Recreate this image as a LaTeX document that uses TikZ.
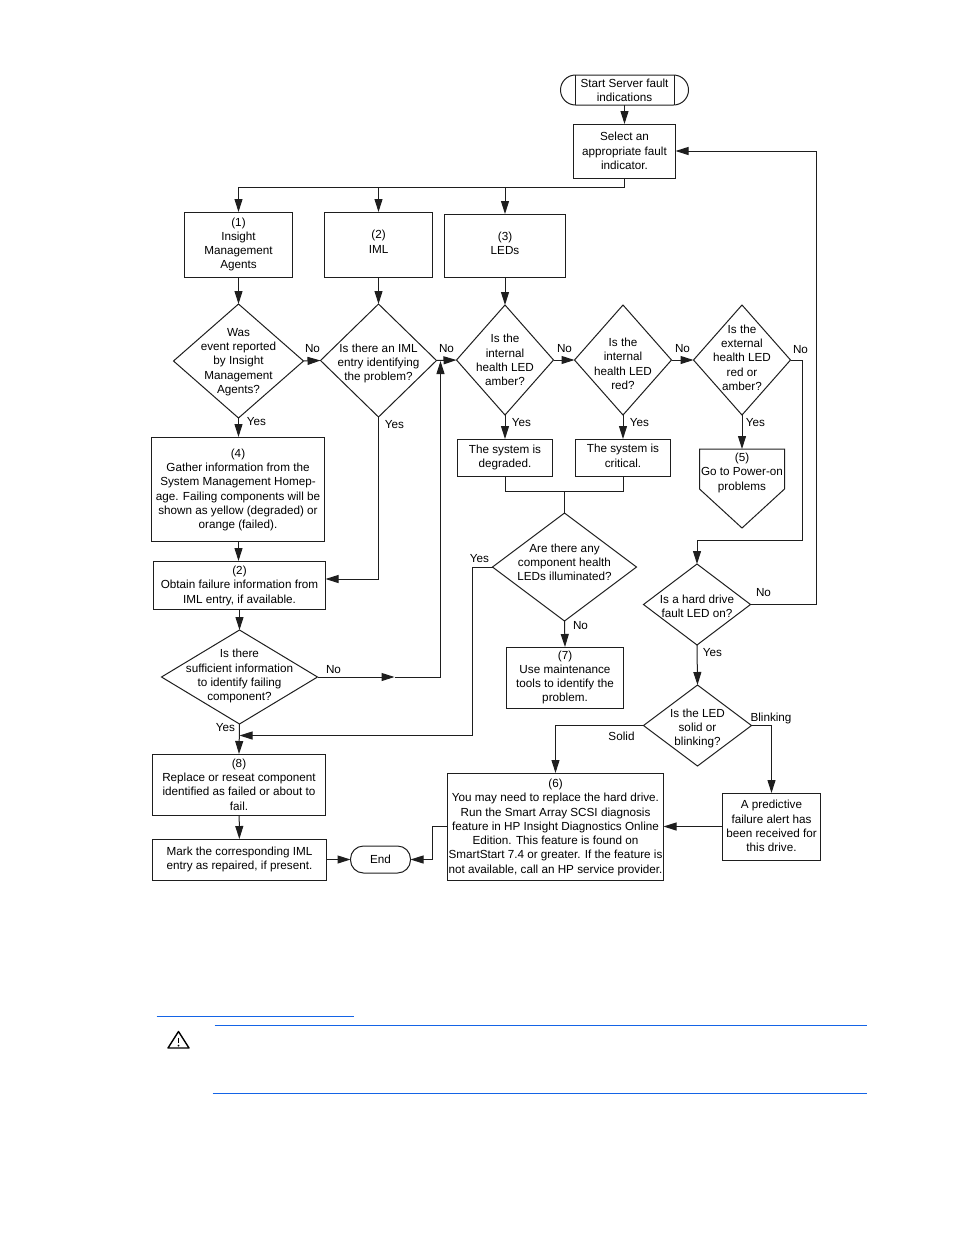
\documentclass[tikz,border=0pt]{standalone}
\usepackage{fontspec}
\setmainfont{Liberation Sans}
\usepackage{tikz}
\usetikzlibrary{arrows.meta}
\usetikzlibrary{shapes}
\usetikzlibrary{positioning}
\definecolor{rulecolor}{RGB}{20,100,230}
\definecolor{inkcolor}{RGB}{30,30,30}
\newcommand{\dtext}[2][0]{\makebox[0pt]{\raisebox{\dimexpr-3pt-(#1pt)\relax}[0pt][0pt]{\begin{tabular}{@{}c@{}}#2\end{tabular}}}}
\tikzset{
    boxnode/.style={rectangle,draw=inkcolor,align=center,inner sep=0pt,outer sep=0pt},
    decision/.style={diamond,draw=inkcolor,inner sep=0pt,outer sep=0pt},
    termnode/.style={rectangle,rounded corners=13pt,draw=inkcolor,align=center,inner sep=0pt,outer sep=0pt},
    answer/.style={inner sep=0pt,outer sep=0pt}
}
\begin{document}
\begin{tikzpicture}[x=1pt,y=-1pt,line width=1pt,
        font=\fontsize{11.7}{14.3}\selectfont]
        \useasboundingbox (0.5,0) rectangle (954.5,1235);
        % boxes
        \begin{scope}[every node/.style={boxnode}]
            \node[termnode,rounded corners=15pt,minimum width=128pt,minimum height=30pt] (start) at (625,90) {Start Server fault\\indications};
            \node[minimum width=102pt,minimum height=54pt] (select) at (625,151) {Select an\\appropriate fault\\indicator.};
            \node[minimum width=108pt,minimum height=65pt] (agents) at (239,244.5) {(1)\\Insight\\Management\\Agents};
            \node[minimum width=108pt,minimum height=65pt] (iml) at (379,244.5) {\dtext[-1.5]{(2)\\IML}};
            \node[minimum width=121pt,minimum height=63pt] (leds) at (505.5,245.5) {\dtext[-1]{(3)\\LEDs}};
            \node[minimum width=173pt,minimum height=104pt] (gather) at (238.5,489) {\dtext[1]{(4)\\Gather information from the\\System Management Homep-\\age. Failing components will be\\shown as yellow (degraded) or\\orange (failed).}};
            \node[minimum width=172pt,minimum height=48pt] (obtain) at (240,585) {\dtext[1]{(2)\\Obtain failure information from\\IML entry, if available.}};
            \node[minimum width=173pt,minimum height=61pt] (replace) at (239.5,784.5) {(8)\\Replace or reseat component\\identified as failed or about to\\fail.};
            \node[minimum width=174pt,minimum height=41pt] (mark) at (240,859.5) {Mark the corresponding IML\\entry as repaired, if present.};
            \node[termnode,minimum width=60pt,minimum height=27pt] (end) at (381,859.5) {End};
            \node[minimum width=95pt,minimum height=37pt] (degraded) at (505.5,457.5) {The system is\\degraded.};
            \node[minimum width=95pt,minimum height=37pt] (critical) at (623.5,457.5) {\dtext[-0.5]{The system is\\critical.}};
            \node[minimum width=117pt,minimum height=61pt] (tools) at (565.5,677.5) {(7)\\Use maintenance\\tools to identify the\\problem.};
            \node[minimum width=216pt,minimum height=107pt] (replacehd) at (556,826.5) {\dtext[1]{(6)\\You may need to replace the hard drive.\\Run the Smart Array SCSI diagnosis\\feature in HP Insight Diagnostics Online\\Edition. This feature is found on\\SmartStart 7.4 or greater. If the feature is\\not available, call an HP service provider.}};
            \node[minimum width=98pt,minimum height=67pt] (alert) at (772,826.5) {\dtext[1]{A predictive\\failure alert has\\been received for\\this drive.}};
        \end{scope}
        \draw[inkcolor] ([xshift=15pt]start.north west) -- ([xshift=15pt]start.south west);
        \draw[inkcolor] ([xshift=-14pt]start.north east) -- ([xshift=-14pt]start.south east);
        % decisions
        \begin{scope}[every node/.style={decision}]
            \node[minimum width=130pt,minimum height=114pt] (wasevent) at (239,361) {\dtext[1]{Was\\event reported\\by Insight\\Management\\Agents?}};
            \node[minimum width=116pt,minimum height=113pt] (isiml) at (379,360.5) {\dtext[3]{Is there an IML\\entry identifying\\the problem?}};
            \node[minimum width=97pt,minimum height=110pt] (isamber) at (505.5,360) {\dtext[1.5]{Is the\\internal\\health LED\\amber?}};
            \node[minimum width=97pt,minimum height=110pt] (isred) at (623.5,360) {\dtext[5]{Is the\\internal\\health LED\\red?}};
            \node[minimum width=97pt,minimum height=110pt] (isext) at (742.5,360) {\dtext[-1]{Is the\\external\\health LED\\red or\\amber?}};
            \node[minimum width=156pt,minimum height=94pt] (suffinfo) at (240,677) {\dtext[-0.5]{Is there\\sufficient information\\to identify failing\\component?}};
            \node[minimum width=144pt,minimum height=108pt] (anyled) at (565,567) {\dtext[-3.5]{Are there any\\component health\\LEDs illuminated?}};
            \node[minimum width=107pt,minimum height=81pt] (hdled) at (697.5,604.5) {\dtext[3]{Is a hard drive\\fault LED on?}};
            \node[minimum width=108pt,minimum height=81pt] (solid) at (698,725.5) {\dtext[3]{Is the LED\\solid or\\blinking?}};
        \end{scope}
        % off page shape
        \node[inner sep=0pt,outer sep=0pt,minimum width=85pt,minimum height=79pt] (power) at (742.5,488.5) {\dtext[-15.5]{(5)\\Go to Power-on\\problems}};
        \draw[inkcolor] (power.north west) -- (power.north east) -- (785,489) -- (power.south) -- (700,489) -- cycle;
        % answers
        \begin{scope}[every node/.style={answer}]
            \node (no1) at (313,349) {No};
            \node (no2) at (447,349) {No};
            \node (no3) at (565,349) {No};
            \node (no4) at (683,349) {No};
            \node (no5) at (801,349.5) {No};
            \node (no6) at (764,593) {No};
            \node (no7) at (581,626) {No};
            \node (no8) at (334,669.5) {No};
            \node (yes1) at (257,421.5) {Yes};
            \node (yes2) at (395,424.5) {Yes};
            \node (yes3) at (522,422.5) {Yes};
            \node (yes4) at (640,423) {Yes};
            \node (yes5) at (756,422.5) {Yes};
            \node (yes6) at (480,558.5) {Yes};
            \node (yes7) at (713,652.5) {Yes};
            \node (yes8) at (226,727.5) {Yes};
            \node (lblsolid) at (622,736.5) {Solid};
            \node (lblblink) at (771.5,718) {Blinking};
        \end{scope}
        % free ends
        \coordinate (split) at (625,187);
        \coordinate (join) at (565,491);
        \coordinate (nomid) at (395,677);
        \coordinate (noup) at (441,677);
        \coordinate (noin) at (441,361);
        \coordinate (yesin) at (240,735.5);
        \coordinate (yesturn) at (473,735.5);
        \coordinate (hdturn) at (803,540);
        \coordinate (hdback) at (817,151);
        \coordinate (imlin) at (326,579);
        \coordinate (imlturn) at (379,579);
        \coordinate (endturn) at (433,859.5);
        % connectors
        \begin{scope}[>={Stealth[inkcolor,length=13pt,width=8pt,inset=0pt]},inkcolor,
            every edge/.style={draw=inkcolor,line width=1pt}]
            \path [->] (start) edge node {} (select);
            \draw (select.south) -- (split);
            \draw [->] (split) -| (agents.north);
            \draw [->] (split) -| (iml.north);
            \draw [->] (split) -| (leds.north);
            \path [->] (agents) edge node {} (wasevent);
            \path [->] (iml) edge node {} (isiml);
            \path [->] (leds) edge node {} (isamber);
            \path [->] (wasevent.east) edge node {} (isiml.west);
            \path [->] (isiml.east) edge node {} (isamber.west);
            \path [->] (isamber.east) edge node {} (isred.west);
            \path [->] (isred.east) edge node {} (isext.west);
            \path [->] (wasevent.south) edge node {} (wasevent.south |- gather.north);
            \path [->] (gather.south -| wasevent.south) edge node {} (wasevent.south |- obtain.north);
            \draw (isiml.south) -- (imlturn);
            \draw [->] (imlturn) -- (imlin);
            \path [->] (obtain.south) edge node {} (suffinfo.north);
            \draw [->] (suffinfo.east) -- (nomid);
            \draw (nomid) -- (noup);
            \draw [->] (noup) -- (noin);
            \path [->] (suffinfo.south) edge node {} (replace.north);
            \path [->] (replace) edge node {} (mark);
            \path [->] (mark) edge node {} (end);
            \path [->] (isamber.south) edge node {} (degraded.north);
            \path [->] (isred.south) edge node {} (critical.north);
            \path [->] (isext.south) edge node {} (power.north);
            \draw (degraded.south) |- (join);
            \draw (critical.south) |- (join);
            \draw (join) -- (anyled.north);
            \path [->] (anyled.south) edge node {} (tools.north);
            \draw [->] (anyled.west) -| (yesturn) -- (yesin);
            \draw [->] (isext.east) -| (hdturn) -| (hdled.north);
            \draw [->] (hdled.east) -| (hdback) -- (select.east);
            \path [->] (hdled.south) edge node {} (solid.north);
            \draw [->] (solid.west) -| (replacehd.north);
            \draw [->] (solid.east) -| (alert.north);
            \path [->] (alert.west) edge node {} (replacehd.east);
            \draw [->] (replacehd.west) -| (endturn) -- (end.east);
        \end{scope}
        % rules below the chart
        \draw[rulecolor,line width=1pt] (157,1016) -- (354,1016);
        \draw[rulecolor,line width=1pt] (215,1025) -- (867,1025);
        \draw[rulecolor,line width=1pt] (213,1093) -- (867,1093);
        \draw[line width=1.4pt,line join=round] (179,1031.5) -- (168.5,1048) -- (189.5,1048) -- cycle;
        \draw[line width=1.6pt] (179,1037.5) -- (179,1043);
        \fill (179,1045.5) circle (1pt);
\end{tikzpicture}
\end{document}
